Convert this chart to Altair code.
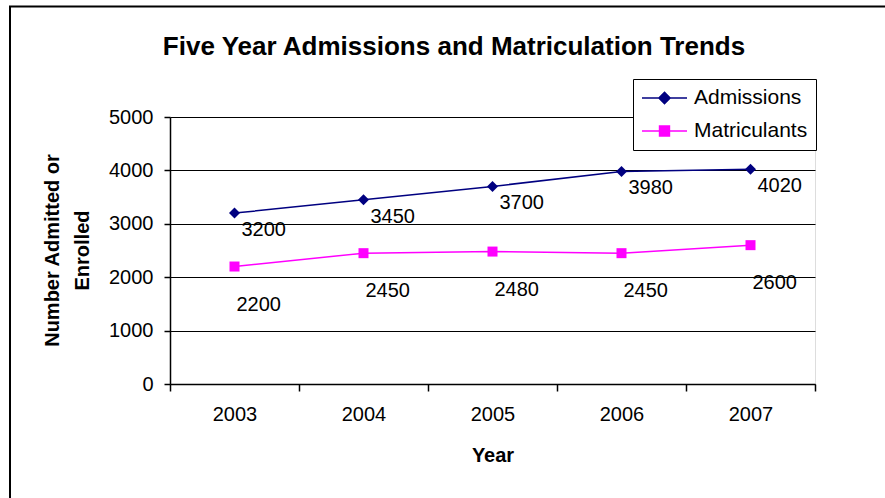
import altair as alt
import pandas as pd

# Chart data
years = ["2003", "2004", "2005", "2006", "2007"]
admissions = [3200, 3450, 3700, 3980, 4020]
matriculants = [2200, 2450, 2480, 2450, 2600]
series_names = ["Admissions", "Matriculants"]
series_colors = ["#000080", "#FF00FF"]
y_ticks = [0, 1000, 2000, 3000, 4000, 5000]
chart_title = "Five Year Admissions and Matriculation Trends"

FONT = "Liberation Sans"

df = pd.DataFrame({
    "Year": years * 2,
    "Value": admissions + matriculants,
    "Series": [series_names[0]] * len(years) + [series_names[1]] * len(years),
})

color_scale = alt.Scale(domain=series_names, range=series_colors)

x_enc = alt.X(
    "Year:O",
    scale=alt.Scale(type="band", paddingInner=0, paddingOuter=0),
    axis=alt.Axis(
        title="Year", labelAngle=0, tickBand="extent", tickSize=7,
        labelFont=FONT, labelFontSize=20, labelColor="black", labelPadding=13,
        titleFont=FONT, titleFontSize=20, titleFontWeight="bold", titleColor="black",
        titleY=71, titleBaseline="middle",
        domainColor="black", domainWidth=1.5, tickColor="black", tickWidth=1.5,
        grid=False,
    ),
)
y_enc = alt.Y(
    "Value:Q",
    scale=alt.Scale(domain=[0, 5000], nice=False),
    axis=alt.Axis(
        values=y_ticks, format="d", title=["Number Admitted or", "Enrolled"],
        labelFont=FONT, labelFontSize=20, labelColor="black", labelPadding=11,
        titleFont=FONT, titleFontSize=20, titleFontWeight="bold", titleColor="black",
        titleAngle=270, titleX=-118, titleY=133, titleAlign="center",
        titleBaseline="middle", titleLineHeight=30,
        domainColor="black", domainWidth=1.5, tickColor="black", tickWidth=1.5, tickSize=6,
        grid=True, gridColor="black", gridWidth=1.2,
    ),
)

base = alt.Chart(df).encode(x=x_enc, y=y_enc)

adm = base.transform_filter(alt.datum.Series == series_names[0])
mat = base.transform_filter(alt.datum.Series == series_names[1])

adm_line = adm.mark_line(strokeWidth=1.5, color=series_colors[0])
mat_line = mat.mark_line(strokeWidth=1.5, color=series_colors[1])

adm_pts = adm.mark_point(shape="diamond", filled=True, size=121, opacity=1, color=series_colors[0])
mat_pts = mat.mark_point(shape="square", filled=True, size=100, opacity=1, color=series_colors[1])

adm_lbl = adm.mark_text(align="left", baseline="middle", dx=7, dy=17,
                        font=FONT, fontSize=20, color="black").encode(text="Value:Q")
mat_lbl = mat.mark_text(align="left", baseline="middle", dx=2, dy=38,
                        font=FONT, fontSize=20, color="black").encode(text="Value:Q")

# Legend entries: a line segment with the series marker on it
legend_paths = [
    "M-1,0L1,0M0,-0.25L0.25,0L0,0.25L-0.25,0Z",
    "M-1,0L1,0M-0.22,-0.22L0.22,-0.22L0.22,0.22L-0.22,0.22Z",
]
legend_def = alt.Legend(
    title=None, orient="none", legendX=463, legendY=-38,
    strokeColor="black", fillColor="white", padding=8,
    labelFont=FONT, labelFontSize=21, labelColor="black", labelOffset=6,
    clipHeight=22, rowPadding=11, symbolSize=2025, symbolOpacity=1,
    symbolStrokeWidth=1.5,
)
legend_layer = base.mark_point(filled=True, size=2025, strokeWidth=1.5).encode(
    fill=alt.Fill("Series:N", scale=color_scale, legend=legend_def),
    stroke=alt.Stroke("Series:N", scale=color_scale, legend=legend_def),
    shape=alt.Shape("Series:N", scale=alt.Scale(domain=series_names, range=legend_paths),
                    legend=legend_def),
    opacity=alt.value(0),
)

# Outer chart frame (left and top edges) and the chart title
frame_df = pd.DataFrame({"k": [0]})
frame_left = alt.Chart(frame_df).mark_rule(color="black", strokeWidth=2).encode(
    x=alt.value(-160), y=alt.value(-111), y2=alt.value(400)
)
frame_top = alt.Chart(frame_df).mark_rule(color="black", strokeWidth=2).encode(
    x=alt.value(-161), x2=alt.value(730), y=alt.value(-110.5)
)
title_text = alt.Chart(frame_df).mark_text(
    text=chart_title, font=FONT, fontSize=26, fontWeight="bold", color="black",
    align="center", baseline="middle",
).encode(x=alt.value(284), y=alt.value(-70))

chart = alt.layer(
    frame_left, frame_top, title_text, adm_line, mat_line,
    adm_pts, mat_pts, adm_lbl, mat_lbl, legend_layer
).properties(
    width=645,
    height=267,
    autosize=alt.AutoSizeParams(type="none"),
    padding={"left": 170, "top": 117, "right": 70, "bottom": 114},
).configure_view(
    stroke="#808080", strokeWidth=1.5
).configure(background="white")

chart.save("out.html", embed_options={"renderer": "svg", "actions": False})
